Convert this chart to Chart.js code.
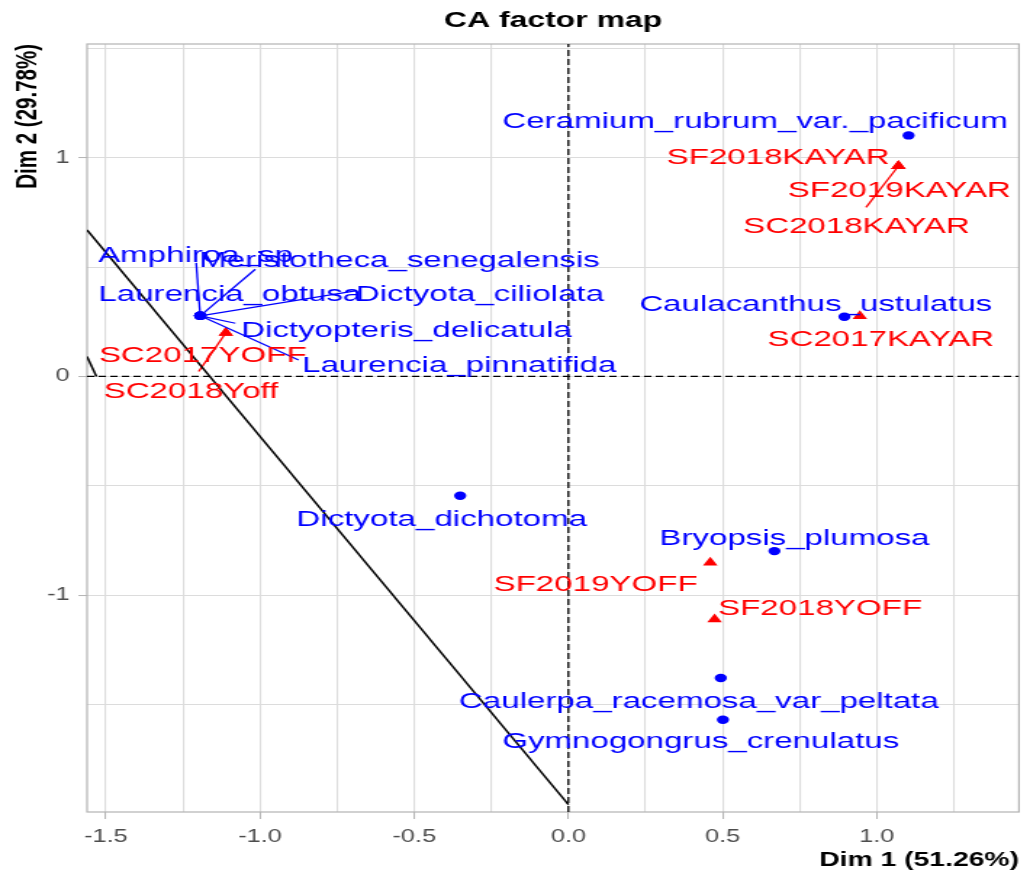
<!DOCTYPE html>
<html>
<head>
<meta charset="utf-8">
<script src="https://cdn.jsdelivr.net/npm/chart.js@4.4.1/dist/chart.umd.min.js"></script>
<style>
  html, body { margin: 0; padding: 0; background: #fff; overflow: hidden; }
  /* the reference picture is stretched sideways, so the canvas is too */
  #myChart { display: block; transform: scaleX(1.4507); transform-origin: 0 0; }
</style>
</head>
<body>
<canvas id="myChart" width="710" height="872"></canvas>
<script>
// column points (species)
const speciesNames = [
  "Ceramium_rubrum_var._pacificum",
  "Caulacanthus_ustulatus",
  "Bryopsis_plumosa",
  "Dictyota_dichotoma",
  "Caulerpa_racemosa_var_peltata",
  "Gymnogongrus_crenulatus",
  "Amphiroa_sp",
  "Meristotheca_senegalensis",
  "Laurencia_obtusa",
  "Dictyota_ciliolata",
  "Dictyopteris_delicatula",
  "Laurencia_pinnatifida",
];
const speciesDim1 = [1.103, 0.895, 0.668, -0.351, 0.494, 0.501, -1.194, -1.194, -1.194, -1.194, -1.194, -1.194];
const speciesDim2 = [1.102, 0.273, -0.799, -0.546, -1.379, -1.570, 0.277, 0.277, 0.277, 0.277, 0.277, 0.277];
// where the repelled labels sit (centre x, baseline y)
const speciesLabelDim1 = [0.605, 0.802, 0.733, -0.411, 0.423, 0.429, -1.209, -0.548, -1.098, -0.287, -0.525, -0.354];
const speciesLabelDim2 = [1.134, 0.299, -0.770, -0.683, -1.516, -1.699, 0.525, 0.502, 0.345, 0.345, 0.182, 0.022];
// end of the leader segment, null = none
const speciesLeaderDim1 = [null, null, null, null, null, null, -1.207, -1.0155, null, -0.686, -1.080, -0.875];
const speciesLeaderDim2 = [null, null, null, null, null, null, 0.519, 0.490, null, 0.392, 0.243, 0.075];

// row points (sites)
const siteNames = ["SF2018KAYAR", "SF2019KAYAR", "SC2018KAYAR", "SC2017KAYAR", "SC2017YOFF", "SC2018Yoff", "SF2019YOFF", "SF2018YOFF"];
const siteDim1 = [1.07, 1.07, 1.07, 0.945, -1.111, -1.111, 0.460, 0.474];
const siteDim2 = [0.962, 0.962, 0.962, 0.276, 0.199, 0.199, -0.851, -1.111];
const siteLabelDim1 = [0.680, 1.073, 0.934, 1.013, -1.186, -1.224, 0.088, 0.816];
const siteLabelDim2 = [0.971, 0.819, 0.654, 0.141, 0.068, -0.100, -0.980, -1.090];
const siteLeaderDim1 = [null, null, 0.965, null, null, -1.199, null, null];
const siteLeaderDim2 = [null, null, 0.773, null, null, 0.022, null, null];

// black straight lines
const lineDim1 = [-1.561, 0];
const lineDim2 = [0.670, -1.958];
const shortLineDim1 = [-1.561, -1.5305];
const shortLineDim2 = [0.0905, 0];

// axes
const xMin = -1.561, xMax = 1.461;
const yMin = -1.992, yMax = 1.520;
const xGrid = [-1.5, -1.25, -1.0, -0.75, -0.5, -0.25, 0, 0.25, 0.5, 0.75, 1.0, 1.25];
const xTickLabels = { "-1.5": "-1.5", "-1": "-1.0", "-0.5": "-0.5", "0": "0.0", "0.5": "0.5", "1": "1.0" };
const yGrid = [-1.5, -1, -0.5, 0, 0.5, 1, 1.5];
const yTickLabels = { "-1": "-1", "0": "0", "1": "1" };

Chart.defaults.font.family = '"Liberation Sans", Arial, sans-serif';

const toPts = (xs, ys) => xs.map((v, i) => ({ x: v, y: ys[i] }));

const segment = (x0, y0, x1, y1, color, width, dash) => ({
  data: [{ x: x0, y: y0 }, { x: x1, y: y1 }],
  showLine: true,
  pointRadius: 0,
  borderColor: color,
  borderWidth: width,
  borderDash: dash || [],
});

const datasets = [
  segment(0, yMin, 0, yMax, "#000", 1.3, [6, 3]),
  segment(xMin, 0, xMax, 0, "#000", 1.3, [5, 3]),
  segment(lineDim1[0], lineDim2[0], lineDim1[1], lineDim2[1], "#000", 1.5),
  segment(shortLineDim1[0], shortLineDim2[0], shortLineDim1[1], shortLineDim2[1], "#000", 1.5),
];
speciesNames.forEach((n, i) => {
  if (speciesLeaderDim1[i] !== null)
    datasets.push(segment(speciesDim1[i], speciesDim2[i], speciesLeaderDim1[i], speciesLeaderDim2[i], "#0000ff", 1.3));
});
siteNames.forEach((n, i) => {
  if (siteLeaderDim1[i] !== null)
    datasets.push(segment(siteDim1[i], siteDim2[i], siteLeaderDim1[i], siteLeaderDim2[i], "#ff0000", 1.3));
});
datasets.push({
  data: toPts(speciesDim1, speciesDim2),
  pointStyle: "circle",
  pointRadius: 4.2,
  backgroundColor: "#0000ff",
  borderWidth: 0,
});
datasets.push({
  data: toPts(siteDim1, siteDim2),
  pointStyle: "triangle",
  pointRadius: 5.8,
  backgroundColor: "#ff0000",
  borderWidth: 0,
});

const isMajorX = (v) => Math.abs(v * 2 - Math.round(v * 2)) < 1e-6;
const isMajorY = (v) => Math.abs(v - Math.round(v)) < 1e-6;

// labels next to the points
const pointLabels = {
  id: "pointLabels",
  afterDatasetsDraw(chart) {
    const { ctx, scales: { x, y } } = chart;
    ctx.save();
    ctx.font = '22.8px "Liberation Sans", Arial, sans-serif';
    ctx.textAlign = "center";
    ctx.textBaseline = "alphabetic";
    ctx.fillStyle = "#0000ff";
    speciesNames.forEach((n, i) => {
      ctx.fillText(n, x.getPixelForValue(speciesLabelDim1[i]), y.getPixelForValue(speciesLabelDim2[i]));
    });
    ctx.fillStyle = "#ff0000";
    siteNames.forEach((n, i) => {
      ctx.fillText(n, x.getPixelForValue(siteLabelDim1[i]), y.getPixelForValue(siteLabelDim2[i]));
    });
    ctx.restore();
  },
};

// grey frame round the panel
const panelBorder = {
  id: "panelBorder",
  beforeDatasetsDraw(chart) {
    const { ctx, chartArea: a } = chart;
    ctx.save();
    ctx.strokeStyle = "#b3b3b3";
    ctx.lineWidth = 1.2;
    ctx.strokeRect(a.left, a.top, a.right - a.left, a.bottom - a.top);
    ctx.restore();
  },
};

const config = {
  type: "scatter",
  data: { datasets: datasets },
  options: {
    responsive: false,
    animation: false,
    events: [],
    devicePixelRatio: 1,
    layout: { padding: { top: 0, right: 7.6, bottom: 0, left: 0 } },
    plugins: {
      legend: { display: false },
      tooltip: { enabled: false },
      title: {
        display: true,
        text: "CA factor map",
        fullSize: false,
        color: "#000",
        font: { size: 22, weight: "bold" },
        padding: { top: 8, bottom: 9.6 },
      },
    },
    scales: {
      x: {
        type: "linear",
        min: xMin,
        max: xMax,
        afterBuildTicks: (s) => { s.ticks = xGrid.map((v) => ({ value: v })); },
        afterFit: (s) => { s.height = 60; },
        border: { display: false },
        grid: {
          color: "#dcdcdc",
          lineWidth: 1.1,
          tickLength: 7,
          tickWidth: 1,
          tickColor: (c) => (c.tick && isMajorX(c.tick.value) ? "#b3b3b3" : "rgba(0,0,0,0)"),
        },
        ticks: {
          autoSkip: false,
          maxRotation: 0,
          padding: 8,
          color: "#4d4d4d",
          font: { size: 17.5 },
          callback: (v) => (isMajorX(v) ? xTickLabels[String(Math.round(v * 2) / 2)] : ""),
        },
        title: {
          display: true,
          text: "Dim 1 (51.26%)",
          align: "end",
          color: "#000",
          font: { size: 19.5, weight: "bold" },
          padding: { top: 0, bottom: 0 },
        },
      },
      y: {
        type: "linear",
        min: yMin,
        max: yMax,
        afterBuildTicks: (s) => { s.ticks = yGrid.map((v) => ({ value: v })); },
        afterFit: (s) => { s.width = 60; },
        border: { display: false },
        grid: {
          color: "#dcdcdc",
          lineWidth: 1.1,
          tickLength: 6,
          tickWidth: 1,
          tickColor: (c) => (c.tick && isMajorY(c.tick.value) ? "#b3b3b3" : "rgba(0,0,0,0)"),
        },
        ticks: {
          padding: 6,
          color: "#4d4d4d",
          font: { size: 17.5 },
          callback: (v) => (isMajorY(v) ? yTickLabels[String(Math.round(v))] : ""),
        },
        title: {
          display: true,
          text: "Dim 2 (29.78%)",
          align: "end",
          color: "#000",
          font: { size: 20.5, weight: "bold" },
          padding: { top: 6.7, bottom: 0 },
        },
      },
    },
  },
  plugins: [panelBorder, pointLabels],
};

const myChart = new Chart(document.getElementById("myChart"), config);
</script>
</body>
</html>
